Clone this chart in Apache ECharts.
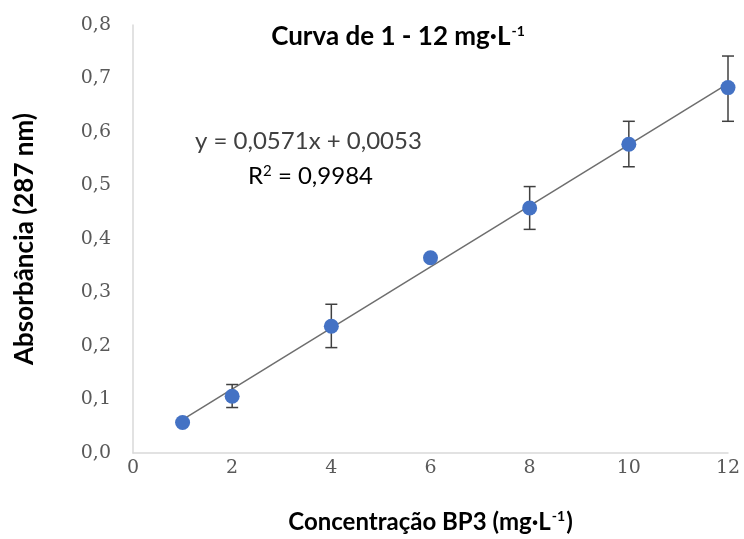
<!DOCTYPE html>
<html>
<head>
<meta charset="utf-8">
<script src="https://cdn.jsdelivr.net/npm/echarts@6/dist/echarts.min.js"></script>
<style>
  html, body { margin: 0; padding: 0; background: #fff; }
  #chart { width: 744px; height: 539px; }
</style>
</head>
<body>
<div id="chart"></div>
<script>
// concentração (mg/L) e absorbância
var conc = [1, 2, 4, 6, 8, 10, 12]
var absorb = [0.057, 0.106, 0.237, 0.365, 0.458, 0.577, 0.683]
var errLow = [0.057, 0.085, 0.197, 0.365, 0.418, 0.535, 0.620]
var errHigh = [0.057, 0.128, 0.278, 0.365, 0.498, 0.620, 0.742]
var slope = 0.0571, intercept = 0.0053
var trendX = [1, 12]

var chart = echarts.init(document.getElementById('chart'))

var font = 'Lato, "Open Sans", sans-serif'

var points = conc.map(function (x, i) { return [x, absorb[i]] })
var errData = conc.map(function (x, i) { return [x, errLow[i], errHigh[i]] })
var trend = trendX.map(function (x) { return [x, slope * x + intercept] })

var option = {
  animation: false,
  title: {
    text: '{b|Curva de 1 - 12 mg·L}{s|-1}',
    left: 393, top: 19, textAlign: 'center',
    textStyle: {
      rich: {
        b: { fontFamily: font, fontSize: 26, fontWeight: 'bold', color: '#000' },
        s: { fontFamily: font, fontSize: 14, fontWeight: 'bold', color: '#000', verticalAlign: 'top', padding: [0, 0, 12, 1] }
      }
    }
  },
  grid: { left: 133, right: 16, top: 25, bottom: 86 },
  xAxis: {
    type: 'value', min: 0, max: 12, interval: 2,
    axisLine: { lineStyle: { color: '#d9d9d9', width: 1.5 } },
    axisTick: { show: false },
    splitLine: { show: false },
    axisLabel: { color: '#595959', fontSize: 19, fontFamily: '"DejaVu Serif", serif', margin: 6 },
    name: '{b|Concentração BP3 (mg·L}{s|-1}{b|)}',
    nameLocation: 'middle', nameGap: 56,
    nameTextStyle: {
      rich: {
        b: { fontFamily: font, fontSize: 24, fontWeight: 'bold', color: '#000' },
        s: { fontFamily: font, fontSize: 14, fontWeight: 'bold', color: '#000', verticalAlign: 'top', padding: [0, 1, 12, 1] }
      }
    }
  },
  yAxis: {
    type: 'value', min: 0, max: 0.8, interval: 0.1,
    axisLine: { show: true, lineStyle: { color: '#d9d9d9', width: 1.5 } },
    axisTick: { show: false },
    splitLine: { show: false },
    axisLabel: {
      color: '#595959', fontSize: 19, fontFamily: '"DejaVu Serif", serif', margin: 22,
      formatter: function (v) { return v.toFixed(1).replace('.', ',') }
    },
    name: 'Absorbância (287 nm)',
    nameLocation: 'middle', nameGap: 95,
    nameTextStyle: { fontFamily: font, fontSize: 26, fontWeight: 'bold', color: '#000' }
  },
  graphic: [
    {
      type: 'text', left: 195, top: 129,
      style: { text: 'y = 0,0571x + 0,0053', fontFamily: font, fontSize: 24, fill: '#404040' }
    },
    {
      type: 'text', left: 248, top: 164,
      style: {
        text: '{a|R}{s|2}{a| = 0,9984}',
        rich: {
          a: { fontFamily: font, fontSize: 24, color: '#404040' },
          s: { fontFamily: font, fontSize: 15, color: '#404040', verticalAlign: 'top', padding: [0, 0, 10, 0] }
        }
      }
    }
  ],
  series: [
    {
      type: 'line', data: trend, symbol: 'none', z: 2,
      lineStyle: { color: '#6e6e6e', width: 1.5 }
    },
    {
      type: 'custom', data: errData, z: 3,
      renderItem: function (params, api) {
        if (api.value(1) === api.value(2)) return null
        var lo = api.coord([api.value(0), api.value(1)])
        var hi = api.coord([api.value(0), api.value(2)])
        var w = 6
        var st = { stroke: '#404040', lineWidth: 1.5 }
        return {
          type: 'group',
          children: [
            { type: 'line', shape: { x1: lo[0], y1: lo[1], x2: hi[0], y2: hi[1] }, style: st },
            { type: 'line', shape: { x1: lo[0] - w, y1: lo[1], x2: lo[0] + w, y2: lo[1] }, style: st },
            { type: 'line', shape: { x1: hi[0] - w, y1: hi[1], x2: hi[0] + w, y2: hi[1] }, style: st }
          ]
        }
      }
    },
    {
      type: 'scatter', data: points, symbolSize: 15, z: 4,
      itemStyle: { color: '#4472C4', opacity: 1 }
    }
  ]
}

chart.setOption(option)
</script>
</body>
</html>
